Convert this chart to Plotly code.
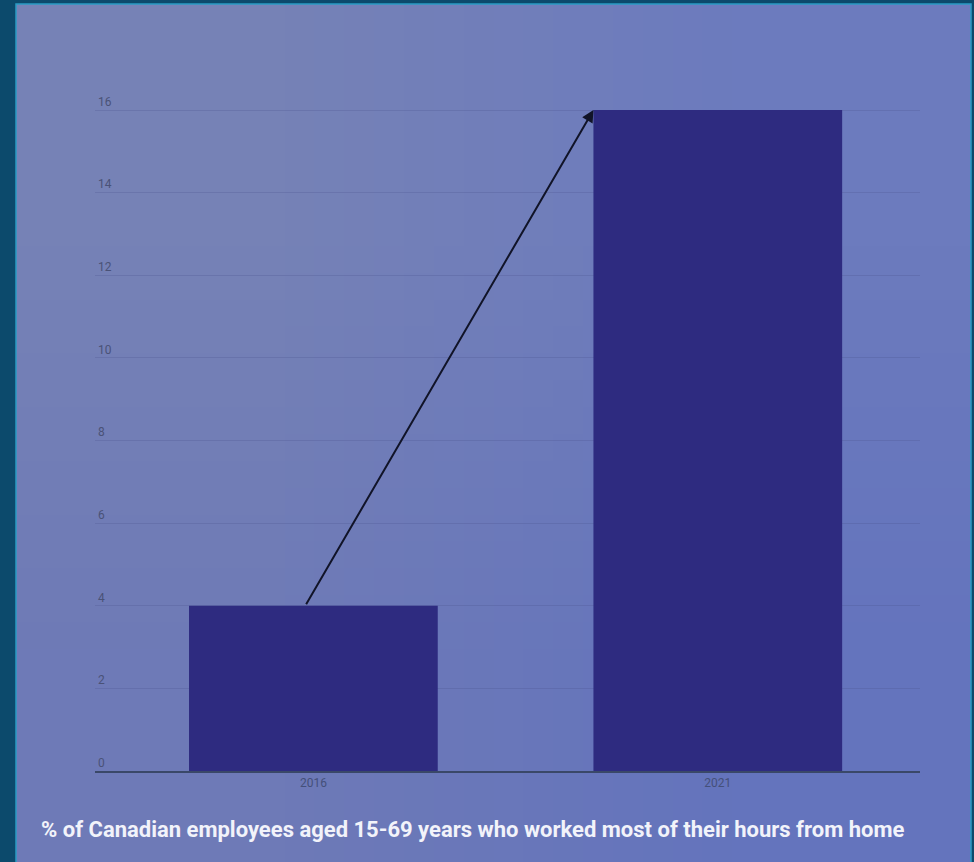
import base64
import struct
import zlib
import plotly.graph_objects as go

years = ["2016", "2021"]
pct_home = [4.0, 16.0]
y_ticks = [0, 2, 4, 6, 8, 10, 12, 14, 16]
caption = "% of Canadian employees aged 15-69 years who worked most of their hours from home"

W, H = 974, 862
L, R, T, B = 95, 54, 90, 91
pw = W - L - R
ph = H - T - B
ytop = 16 + (110 - T) / (661 / 16)


def px_x(p):
    return (p - L) / pw


def px_y(p):
    return (H - B - p) / ph


def png_uri(rows):
    raw = b"".join(b"\x00" + bytes([c for px in row for c in px]) for row in rows)
    def chunk(tag, data):
        return struct.pack(">I", len(data)) + tag + data + struct.pack(">I", zlib.crc32(tag + data) & 0xffffffff)
    png = (b"\x89PNG\r\n\x1a\n" +
           chunk(b"IHDR", struct.pack(">IIBBBBB", len(rows[0]), len(rows), 8, 2, 0, 0, 0)) +
           chunk(b"IDAT", zlib.compress(raw)) + chunk(b"IEND", b""))
    return "data:image/png;base64," + base64.b64encode(png).decode()


# subtle panel gradient (top-left greyer, bottom-right bluer)
grad = png_uri([[(0x76, 0x82, 0xb6), (0x6c, 0x7b, 0xbe)],
                [(0x6e, 0x7a, 0xb7), (0x64, 0x74, 0xbd)]])

fig = go.Figure()
fig.add_trace(go.Bar(
    x=[0, 1], y=pct_home, width=0.615,
    marker=dict(color="#2e2b80", line=dict(width=0)),
    hoverinfo="skip", showlegend=False,
))

x0, x1, y0, y1 = px_x(16), px_x(971), px_y(864), px_y(4)
fig.add_layout_image(source=grad, xref="paper", yref="paper",
                     x=x0, y=y1, sizex=x1 - x0, sizey=y1 - y0,
                     xanchor="left", yanchor="top", sizing="stretch",
                     layer="below", opacity=1)
fig.add_shape(type="rect", xref="paper", yref="paper",
              x0=x0, x1=x1, y0=y0, y1=y1,
              fillcolor="rgba(0,0,0,0)", line=dict(color="#2a9cc4", width=1.5))

# arrow from 2016 bar top to 2021 bar top-left
fig.add_annotation(x=1 - 0.3075, y=pct_home[1], ax=-0.02, ay=pct_home[0],
                   xref="x", yref="y", axref="x", ayref="y",
                   showarrow=True, arrowhead=2, arrowsize=1.2, arrowwidth=2,
                   arrowcolor="#111428", text="", standoff=0, startstandoff=0)

fig.add_annotation(x=px_x(472), y=px_y(829), xref="paper", yref="paper",
                   text="<b>" + caption + "</b>", showarrow=False,
                   xanchor="center", yanchor="middle",
                   font=dict(family="Roboto", size=22, color="#f2f3fa"))

fig.update_layout(
    width=W, height=H,
    margin=dict(l=L, r=R, t=T, b=B),
    paper_bgcolor="#0c4a6c",
    plot_bgcolor="rgba(0,0,0,0)",
    font=dict(family="Roboto", color="#4a5277"),
    xaxis=dict(range=[-0.54, 1.5], tickvals=[0, 1], ticktext=years,
               showgrid=False, zeroline=False, showline=True,
               linecolor="#3a4868", linewidth=2, ticks="",
               tickfont=dict(size=12, color="#44507a")),
    yaxis=dict(range=[0, ytop], tickvals=y_ticks, showgrid=True,
               gridcolor="rgba(70,80,140,0.25)", gridwidth=1,
               zeroline=False, showline=False, ticks="",
               ticklabelposition="inside top",
               tickfont=dict(size=12, color="#4a5277")),
)

fig.write_html("out.html", config={"displayModeBar": False},
               post_script="document.body.style.margin='0';document.body.style.overflow='hidden';")
